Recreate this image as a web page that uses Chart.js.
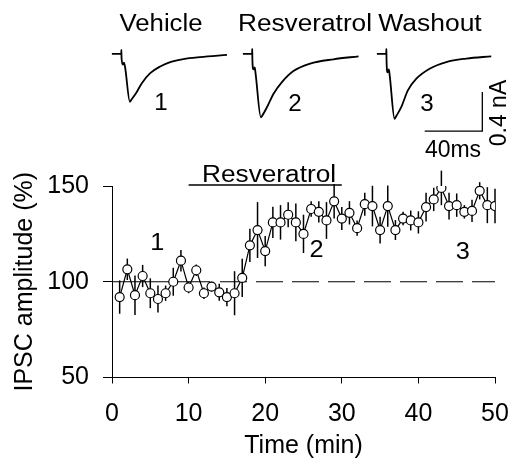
<!DOCTYPE html>
<html>
<head>
<meta charset="utf-8">
<script src="https://cdn.jsdelivr.net/npm/chart.js@4.4.1/dist/chart.umd.min.js"></script>
<style>
  body { margin: 0; background: #fff; }
  #wrap { position: relative; width: 513px; height: 465px; }
  #wrap canvas { position: absolute; }
  #main { left: 0; top: 0; }
  .trace { top: 44px; }
  #trace1 { left: 109px; }
  #trace2 { left: 240px; }
  #trace3 { left: 374px; }
</style>
</head>
<body>
<div id="wrap">
  <canvas id="main" width="513" height="465"></canvas>
  <canvas id="trace1" class="trace" width="121" height="93"></canvas>
  <canvas id="trace2" class="trace" width="121" height="93"></canvas>
  <canvas id="trace3" class="trace" width="121" height="93"></canvas>
</div>
<script>
// time course (min) and IPSC amplitude (% of baseline), mean +/- sem
var minutes = [1,2,3,4,5,6,7,8,9,10,11,12,13,14,15,16,17,18,19,20,21,22,23,24,25,
               26,27,28,29,30,31,32,33,34,35,36,37,38,39,40,41,42,43,44,45,46,47,48,49,50];
var amplitude = [92,106.5,93,103,94,91,94,100,111,97,106,94,97.5,94.5,92,94,102,119,127,116,131,131,135,131,125,
                 138,136.5,132,142,133,136,128,140.5,139.5,127,139.5,127,133,132,131,139,143,149,139.5,140,136.5,137,147.5,140,139.5];
var sem = [8.7,5.6,10.3,5.8,7.8,7,4,7.3,5.6,3,3,3,2.5,4.4,4.8,11.5,10,8.7,14.6,7.9,8.2,9,6.5,9.8,10,
           4,5.6,9.6,9,6,6.1,4,6,10.6,7,10.8,5.2,3.5,5.2,5.8,7.5,6.1,9,7,6.1,3.5,5.8,4.5,9.4,9];

var xTicks = [0,10,20,30,40,50];
var yTicks = [50,100,150];
var baselineLevel = 100;
var drugStart = 10, drugEnd = 30;
var drugName = 'Resveratrol';

// example currents: [ms, nA] relative to holding current
var traceVehicle = [[0,0],[6.5,0],[6.6,0.04],[6.7,-0.04],[7.6,-0.11],[8.4,-0.09],[9.2,-0.14],[12.5,-0.49],[13.5,-0.47],
  [17.4,-0.387],[20.8,-0.3],[26.6,-0.198],[33.5,-0.13],[40.5,-0.085],[49.7,-0.054],[61.3,-0.034],[79.9,-0.012]];
var traceDrug = [[0,0],[6.4,0],[6.5,0.05],[6.6,-0.06],[7.3,-0.16],[8.2,-0.14],[8.8,-0.2],[12.5,-0.648],[13.5,-0.63],
  [16.7,-0.546],[21.3,-0.408],[27.1,-0.289],[35.1,-0.176],[46.7,-0.1],[62.9,-0.056],[80.3,-0.026]];
var traceWash = [[0,0],[6.5,0],[6.6,0.05],[6.7,-0.06],[7.4,-0.19],[8.3,-0.16],[8.9,-0.22],[12.3,-0.665],[13.3,-0.64],
  [16.9,-0.546],[21.5,-0.374],[27.4,-0.254],[36.6,-0.152],[48.2,-0.084],[62.1,-0.049],[79.4,-0.026]];
var traceTitles = ['Vehicle', 'Resveratrol', 'Washout'];
var scaleBarMs = 40, scaleBarNa = 0.4;

var font = 'Arial, "Liberation Sans", sans-serif';
Chart.defaults.font.family = font;
Chart.defaults.color = '#000';

function pts(xs, ys) {
  return xs.map(function(v, i){ return {x: v, y: ys[i]}; });
}

// text drawn a bit wider than the font, like the original figure
function wideText(ctx, str, x, y, size, stretch) {
  ctx.save();
  ctx.font = size + 'px ' + font;
  ctx.translate(x, y);
  ctx.scale(stretch, 1);
  ctx.fillText(str, 0, 0);
  ctx.restore();
}

var errorBars = {
  id: 'errorBars',
  beforeDatasetsDraw: function(chart) {
    var ctx = chart.ctx, sx = chart.scales.x, sy = chart.scales.y;
    ctx.save();
    ctx.strokeStyle = '#000';
    ctx.lineWidth = 1.5;
    for (var i = 0; i < minutes.length; i++) {
      var px = sx.getPixelForValue(minutes[i]);
      ctx.beginPath();
      ctx.moveTo(px, sy.getPixelForValue(amplitude[i] - sem[i]));
      ctx.lineTo(px, sy.getPixelForValue(amplitude[i] + sem[i]));
      ctx.stroke();
    }
    ctx.restore();
  }
};

var labels = {
  id: 'labels',
  afterDatasetsDraw: function(chart) {
    var ctx = chart.ctx, sx = chart.scales.x, sy = chart.scales.y;
    ctx.save();
    ctx.fillStyle = '#000';
    ctx.textAlign = 'center';
    ctx.textBaseline = 'alphabetic';
    // period numbers inside the plot
    wideText(ctx, '1', sx.getPixelForValue(5.9), sy.getPixelForValue(116.5), 23, 1.1);
    wideText(ctx, '2', sx.getPixelForValue(26.7), sy.getPixelForValue(112.8), 23, 1.1);
    wideText(ctx, '3', sx.getPixelForValue(45.8), sy.getPixelForValue(111.8), 23, 1.1);
    wideText(ctx, drugName, sx.getPixelForValue(20.5), sy.getPixelForValue(150.5) - 3, 23, 1.14);
    // top panel text
    wideText(ctx, traceTitles[0], 161, 31, 23, 1.12);
    wideText(ctx, traceTitles[1], 305, 31, 23, 1.14);
    wideText(ctx, traceTitles[2], 430, 31, 23, 1.15);
    wideText(ctx, '1', 161, 110, 23, 1.05);
    wideText(ctx, '2', 295, 111, 23, 1.05);
    wideText(ctx, '3', 427, 111, 23, 1.05);
    wideText(ctx, scaleBarMs + 'ms', 453, 157, 23, 1);
    ctx.translate(506, 113);
    ctx.rotate(-Math.PI / 2);
    wideText(ctx, scaleBarNa + ' nA', 0, 0, 23, 1);
    ctx.restore();
  }
};

new Chart(document.getElementById('main'), {
  type: 'line',
  data: {
    datasets: [
      { data: pts(minutes, amplitude), borderColor: '#000', borderWidth: 1.2,
        pointRadius: 4.5, pointBackgroundColor: '#fff', pointBorderColor: '#000', pointBorderWidth: 1.2 },
      { data: [{x: 0, y: baselineLevel}, {x: 12.8, y: baselineLevel}], borderColor: '#000', borderWidth: 1.2, pointRadius: 0 },
      { data: [{x: 14.1, y: baselineLevel}, {x: 50, y: baselineLevel}], borderColor: '#000', borderWidth: 1.2,
        borderDash: [27, 9], pointRadius: 0 },
      { data: [{x: drugStart, y: 150.5}, {x: drugEnd, y: 150.5}], borderColor: '#000', borderWidth: 1.5,
        pointRadius: 0, clip: false }
    ]
  },
  options: {
    responsive: false,
    animation: false,
    layout: { padding: { top: 186, right: 18, left: 0, bottom: 0 }, autoPadding: false },
    plugins: { legend: { display: false }, tooltip: { enabled: false } },
    scales: {
      x: {
        type: 'linear', min: 0, max: 50,
        afterFit: function(s){ s.height = 87.5; s.paddingLeft = 0; s.paddingRight = 0; },
        afterBuildTicks: function(s){ s.ticks = xTicks.map(function(v){ return {value: v}; }); },
        ticks: { color: '#000', font: { size: 25 }, padding: 15.5, maxRotation: 0 },
        grid: { drawOnChartArea: false, drawTicks: true, tickLength: 6, color: '#000', lineWidth: 1 },
        border: { color: '#000', width: 1 },
        title: { display: true, text: 'Time (min)', color: '#000', font: { size: 25 }, padding: { top: 0, bottom: 3.5 } }
      },
      y: {
        type: 'linear', min: 50, max: 150,
        afterFit: function(s){ s.width = 112; s.paddingTop = 0; s.paddingBottom = 0; },
        afterBuildTicks: function(s){ s.ticks = yTicks.map(function(v){ return {value: v}; }); },
        ticks: { color: '#000', font: { size: 25 }, padding: 14 },
        grid: { drawOnChartArea: false, drawTicks: true, tickLength: 9, color: '#000', lineWidth: 1 },
        border: { color: '#000', width: 1 },
        title: { display: true, text: 'IPSC amplitude (%)', color: '#000', font: { size: 25 }, padding: { top: 10, bottom: 0 } }
      }
    }
  },
  plugins: [errorBars, labels]
});

function traceChart(id, trace, withBar) {
  var sets = [{
    data: trace.map(function(p){ return {x: p[0], y: p[1]}; }),
    borderColor: '#000', borderWidth: 1.8, pointRadius: 0, cubicInterpolationMode: 'monotone'
  }];
  if (withBar) {
    // L-shaped calibration bar, corner at 73.2 ms / -0.79 nA
    sets.push({
      data: [{x: 73.2 - scaleBarMs, y: -0.79}, {x: 73.2, y: -0.79}, {x: 73.2, y: -0.79 + scaleBarNa}],
      borderColor: '#000', borderWidth: 1.3, pointRadius: 0, borderJoinStyle: 'miter'
    });
  }
  new Chart(document.getElementById(id), {
    type: 'line',
    data: { datasets: sets },
    options: {
      responsive: false,
      animation: false,
      layout: { padding: 0, autoPadding: false },
      plugins: { legend: { display: false }, tooltip: { enabled: false } },
      scales: {
        x: { type: 'linear', min: -2, max: 82, display: false },
        y: { type: 'linear', min: -0.85, max: 0.1, display: false }
      }
    }
  });
}

traceChart('trace1', traceVehicle, false);
traceChart('trace2', traceDrug, false);
traceChart('trace3', traceWash, true);
</script>
</body>
</html>
